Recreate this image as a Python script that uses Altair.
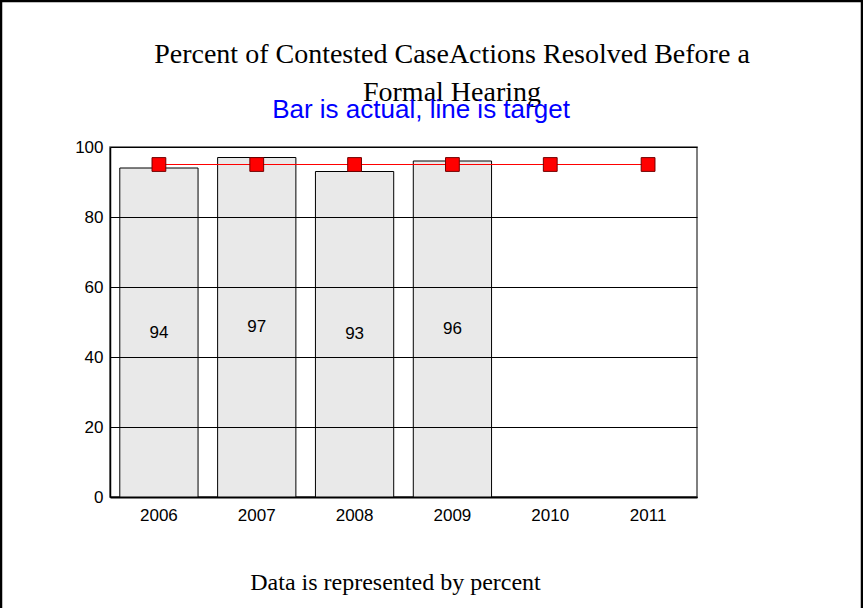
import altair as alt
import pandas as pd

years = ["2006", "2007", "2008", "2009", "2010", "2011"]
actual = [94, 97, 93, 96, None, None]
target = [95, 95, 95, 95, 95, 95]

title_lines = ["Percent of Contested CaseActions Resolved Before a", "Formal Hearing"]
subtitle = ["Bar is actual, line is target"]
footer = "Data is represented by percent"

df = pd.DataFrame({"year": years, "actual": actual, "target": target})

xenc = alt.X("year:N", sort=years,
             scale=alt.Scale(paddingInner=0.2, paddingOuter=0.1),
             axis=alt.Axis(title=footer, labelAngle=0, labelFont="Liberation Sans",
                           labelFontSize=17, labelColor="black", labelPadding=10,
                           ticks=False, domainColor="black", domainWidth=2,
                           titleFont="Liberation Serif", titleFontSize=24,
                           titleFontWeight="normal", titleColor="black",
                           titleBaseline="alphabetic", titleX=285, titleY=92,
                           titleAnchor="middle"))

yscale = alt.Scale(domain=[0, 100])

base = alt.Chart(df)

bars = base.mark_bar(fill="#e9e9e9", stroke="black", strokeWidth=1).encode(
    x=xenc,
    y=alt.Y("actual:Q", scale=yscale,
            axis=alt.Axis(values=[0, 20, 40, 60, 80, 100], title=None, grid=True,
                          gridColor="black", gridWidth=1, zindex=1, ticks=False,
                          labelFont="Liberation Sans", labelFontSize=17,
                          labelColor="black", labelPadding=7,
                          domainColor="black", domainWidth=1.5)),
)

labels = base.transform_filter("isValid(datum.actual)").transform_calculate(
    mid="datum.actual / 2"
).mark_text(font="Liberation Sans", fontSize=17, color="black", baseline="middle").encode(
    x=alt.X("year:N", sort=years),
    y=alt.Y("mid:Q", scale=yscale),
    text=alt.Text("actual:Q"),
)

line = base.mark_line(color="red", strokeWidth=1).encode(
    x=alt.X("year:N", sort=years),
    y=alt.Y("target:Q", scale=yscale),
)

points = base.mark_square(size=190, fill="red", stroke="#700000", strokeWidth=1, opacity=1).encode(
    x=alt.X("year:N", sort=years),
    y=alt.Y("target:Q", scale=yscale),
)

ttl = alt.Chart(pd.DataFrame({"t": ["\n".join(title_lines)]})).mark_text(
    font="Liberation Serif", fontSize=28, color="black", baseline="alphabetic",
    align="center", lineBreak="\n", lineHeight=38
).encode(
    text="t:N",
    x=alt.value(342),
    y=alt.value(-84),
)

sub = alt.Chart(pd.DataFrame({"t": subtitle})).mark_text(
    font="Liberation Sans", fontSize=26, color="#0000ff", baseline="alphabetic", align="center"
).encode(
    text="t:N",
    x=alt.value(311),
    y=alt.value(-29),
)

frame = alt.Chart(pd.DataFrame({"f": [0]})).mark_rect(
    fill="transparent", stroke="black", strokeWidth=2.5
).encode(
    x=alt.value(-109),
    x2=alt.value(752),
    y=alt.value(-146),
    y2=alt.value(475),
)

chart = alt.layer(bars, labels, line, points, ttl, sub, frame).properties(
    width=587,
    height=350,
    autosize=alt.AutoSizeParams(type="none"),
    padding={"left": 110, "top": 147, "right": 166, "bottom": 111},
    background="white",
).configure_view(stroke="#555555", strokeWidth=1.5)

chart.save("out.html", embed_options={"renderer": "svg", "actions": False})
